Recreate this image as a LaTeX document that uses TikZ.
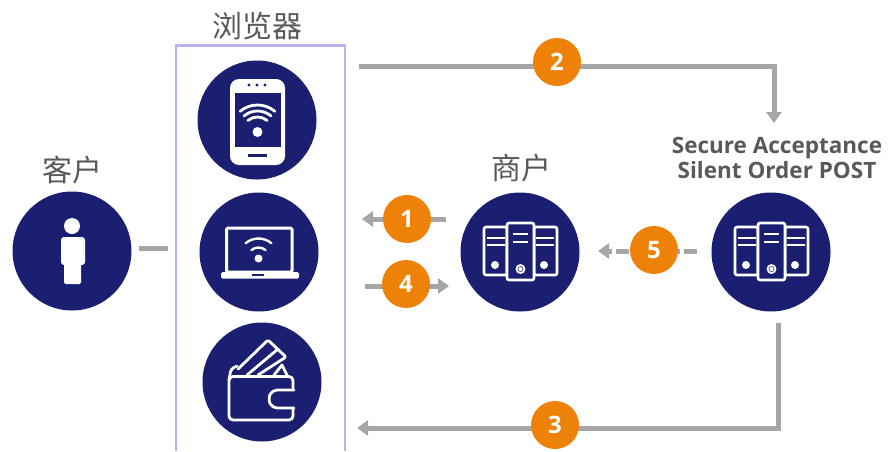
\documentclass[tikz,border=0pt]{standalone}
\usepackage{fontspec}
\setmainfont{Open Sans}
\newfontfamily\cjk{Noto Sans CJK SC}
\usetikzlibrary{arrows.meta}
\definecolor{navy}{HTML}{1A1F71}
\definecolor{orangeb}{HTML}{EE8208}
\definecolor{linegray}{HTML}{A6A6A6}
\definecolor{textgray}{HTML}{595959}
\definecolor{boxline}{HTML}{B8B4F2}
\tikzset{
  iconcircle/.style={circle,fill=navy,draw=none,minimum size=119pt,inner sep=0pt},
  badge/.style={circle,fill=orangeb,draw=none,minimum size=48pt,inner sep=0pt,text=white,font=\fontsize{24}{24}\selectfont\bfseries},
  flow/.style={draw=linegray,line width=5pt,-{Triangle[length=11pt,width=15pt]}},
  plainflow/.style={draw=linegray,line width=5pt},
  dashflow/.style={flow,dash pattern=on 13pt off 4pt},
  cjklabel/.style={text=textgray,font=\cjk\fontsize{30}{30}\selectfont,inner sep=0pt},
  seclabel/.style={text=textgray,font=\fontsize{22.5}{25}\selectfont\bfseries,inner sep=0pt,align=center},
  iconline/.style={draw=white,line width=2.8pt,line join=round,line cap=round},
  thinicon/.style={draw=white,line width=2.6pt,line join=round},
  pics/servers/.style={code={
    \draw[thinicon,rounded corners=2pt] (-36,-25) rectangle (-13,23);
    \draw[thinicon,rounded corners=2pt] (14,-25) rectangle (37,23);
    \draw[thinicon,rounded corners=2pt,fill=navy] (-13,-29) rectangle (14,28);
    \draw[thinicon] (-33,-14)--(-15,-14) (-33,-7)--(-15,-7);
    \draw[thinicon] (16,-14)--(34,-14) (16,-7)--(34,-7);
    \draw[thinicon] (-7,-18)--(8,-18) (-7,-10)--(8,-10);
    \fill[white] (-25,13) circle (4pt) (24,13) circle (4pt);
    \draw[draw=white,line width=1.8pt] (0.5,17) circle (4pt);
    \fill[white] (0.5,17) circle (2.2pt);
  }}
}
\begin{document}
\begin{tikzpicture}[x=1pt,y=-1pt]
\useasboundingbox (0,0) rectangle (888,451);
% browser frame
\draw[boxline,line width=2.2pt] (176,451) -- (176,45.5) -- (345,45.5) -- (345,451);
% icon circles
\node[iconcircle] (phone) at (257,120) {};
\node[iconcircle] (laptop) at (259,252) {};
\node[iconcircle] (wallet) at (262,382) {};
\node[iconcircle] (customer) at (72,251) {};
\node[iconcircle] (merchant) at (520,252) {};
\node[iconcircle] (secure) at (771,252) {};
% labels
\node[cjklabel] (lbrowser) at (257,26) {浏览器};
\node[cjklabel] (lcustomer) at (72,170) {客户};
\node[cjklabel] (lmerchant) at (521,168) {商户};
\node[seclabel] (lsecure) at (777,158) {Secure Acceptance\\Silent Order POST};
% phone icon
\fill[white,rounded corners=9pt] (230,79) rectangle (285,165);
\fill[navy] (235,93) rectangle (281,147);
\fill[navy] (248,153.5) rectangle (267,156.5);
\fill[navy] (249,85) circle (1.6pt) (257,85) circle (1.6pt) (265,85) circle (1.6pt);
\fill[white] (257.5,132) circle (5pt);
\draw[iconline] (257.5,132) ++(-130:15) arc (-130:-50:15);
\draw[iconline] (257.5,132) ++(-130:21) arc (-130:-50:21);
\draw[iconline] (257.5,132) ++(-130:27) arc (-130:-50:27);
% laptop icon
\draw[white,line width=3pt,rounded corners=1.5pt] (226.5,228) rectangle (292,272);
\fill[white,rounded corners=1.5pt] (221,272) rectangle (299,278.5);
\fill[navy] (252,273.5) rectangle (264,275.5);
\fill[white] (258.5,258.5) circle (4pt);
\draw[iconline,line width=2.4pt] (258.5,258.5) ++(-130:11) arc (-130:-50:11);
\draw[iconline,line width=2.4pt] (258.5,258.5) ++(-130:20) arc (-130:-50:20);
% wallet icon
\draw[iconline,rounded corners=4pt] (293,390) -- (293,376.5) -- (229,376.5) -- (229,420) -- (293,420) -- (293,408);
\draw[iconline,rounded corners=5pt] (294,390) -- (272,390) -- (268,399) -- (272,408) -- (294,408);
\draw[iconline,rounded corners=2pt] (238,369) -- (268,340) -- (286,357) -- (258,375);
\draw[iconline] (247,375) -- (278,349);
\draw[iconline,rounded corners=3pt] (229,380) -- (231,369) -- (237,366);
\draw[iconline] (274,375) -- (282,365) -- (287,375);
% person icon
\fill[white] (72,226) circle (8pt);
\fill[white,rounded corners=3pt] (61,237) rectangle (85,265);
\fill[white,rounded corners=2pt] (64,255) rectangle (81,284);
% server icons
\pic at (merchant.center) {servers};
\pic at (secure.center) {servers};
% connector end points
\coordinate (c2a) at (359,66);
\coordinate (c2b) at (774,66);
\coordinate (c2c) at (774,123);
\coordinate (c3a) at (778,323);
\coordinate (c3b) at (778,428);
\coordinate (c3c) at (357,428);
\coordinate (c1a) at (446,219);
\coordinate (c1b) at (362,219);
\coordinate (c4a) at (365,286);
\coordinate (c4b) at (449,286);
\coordinate (c5a) at (697,251);
\coordinate (c5b) at (598,251);
\coordinate (c0a) at (139,248);
\coordinate (c0b) at (168,248);
% connectors
\draw[plainflow] (c0a) -- (c0b);
\draw[flow] (c2a) -- (c2b) -- (c2c);
\draw[flow] (c3a) -- (c3b) -- (c3c);
\draw[flow] (c1a) -- (c1b);
\draw[flow] (c4a) -- (c4b);
\draw[dashflow] (c5a) -- (c5b);
% badges
\node[badge] (b2) at (557,62) {2};
\node[badge] (b1) at (407,219) {1};
\node[badge] (b4) at (406,284) {4};
\node[badge] (b5) at (654,250) {5};
\node[badge] (b3) at (555,425) {3};
\end{tikzpicture}
\end{document}
